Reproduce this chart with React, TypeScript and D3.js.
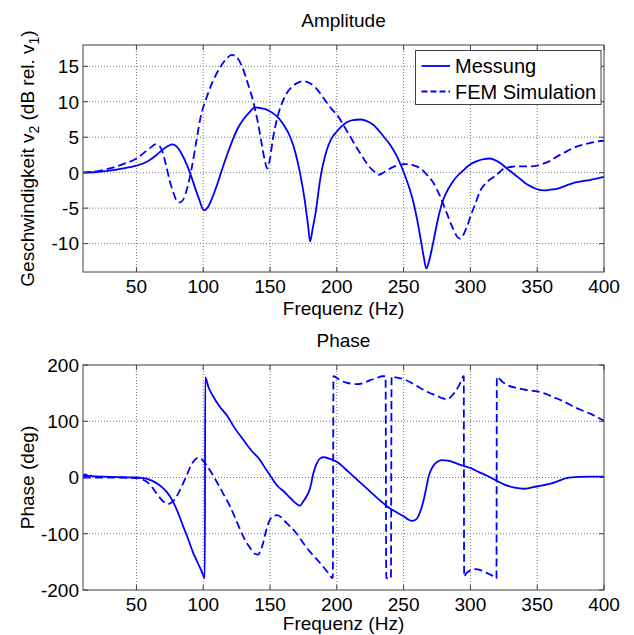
import React from 'react'
import * as d3 from 'd3'

// amplitude, Messung (dB rel. v1)
const ampMessHz = [10, 20, 30, 40, 50, 55, 60, 65, 70, 74, 77, 80, 84, 88, 91, 94, 97, 100.5, 103, 106, 110, 114, 118, 122, 126, 130, 134, 139, 143, 147.5, 152, 156, 160, 165, 169, 172.5, 176, 178.5, 180, 182, 184, 187.5, 192.5, 196, 200, 207.5, 212, 217.5, 222, 227, 235, 240, 245, 250, 254, 257.5, 260, 262.5, 265, 267, 269, 272.5, 275.5, 278.75, 282, 286, 290, 294, 298, 301, 306, 310, 314, 318, 322, 326, 330, 334, 338, 342, 347, 351, 355, 360, 366, 372, 378, 384, 390, 395, 400]
const ampMessDb = [0, 0.1, 0.3, 0.6, 1.0, 1.3, 1.8, 2.5, 3.3, 3.8, 4.0, 3.7, 2.6, 1.0, -0.5, -2.2, -3.8, -5.3, -5.0, -3.9, -1.9, 0.4, 2.6, 4.6, 6.3, 7.5, 8.4, 9.2, 9.1, 8.9, 8.4, 7.8, 6.8, 5.1, 2.8, -0.1, -3.9, -7.5, -9.7, -7.8, -5.8, -1.0, 3.2, 4.8, 5.8, 7.1, 7.4, 7.5, 7.3, 6.8, 5.1, 3.9, 2.3, 0.1, -2.0, -4.3, -6.5, -9.1, -11.8, -13.5, -12.5, -9.5, -6.7, -4.3, -2.8, -1.5, -0.5, 0.2, 0.9, 1.3, 1.7, 1.9, 2.0, 1.8, 1.4, 0.8, 0.2, -0.4, -1.0, -1.6, -2.1, -2.4, -2.5, -2.4, -2.2, -1.8, -1.4, -1.2, -1.0, -0.8, -0.6]

// amplitude, FEM Simulation
const ampFemHz = [10, 20, 30, 40, 50, 57, 61, 64, 67, 69, 72, 75, 78, 80, 82.5, 85, 88, 91, 95, 98, 102.5, 107, 112.5, 117, 121.5, 125, 129, 133, 137.5, 141, 144, 146, 148, 150, 152, 155, 158.5, 162.5, 167, 171, 175, 180, 184, 187.5, 192, 196, 200, 205, 210, 215, 220, 225, 229, 231, 234, 237, 240, 245, 250, 254, 258, 262.5, 267, 272.5, 277, 282.5, 287, 290, 292, 294, 297, 300, 304, 307.5, 312, 317.5, 322, 325, 330, 335, 340, 345, 350, 355, 360, 365, 370, 375, 380, 385, 390, 395, 400]
const ampFemDb = [0, 0.2, 0.6, 1.2, 2.0, 3.0, 3.6, 4.0, 3.8, 3.2, 1.2, -1.2, -3.0, -3.9, -4.2, -3.8, -2.2, 0.3, 4.6, 7.8, 10.6, 12.8, 14.8, 16.0, 16.6, 16.3, 15.0, 12.8, 10.0, 7.0, 3.8, 1.8, 0.6, 2.0, 4.6, 7.4, 9.6, 11.2, 12.2, 12.7, 12.9, 12.6, 12.0, 11.2, 10.0, 9.0, 8.2, 6.7, 5.1, 3.5, 2.0, 0.7, 0.0, -0.3, -0.1, 0.3, 0.6, 1.0, 1.2, 1.2, 1.0, 0.6, -0.2, -1.5, -3.2, -5.8, -7.9, -9.0, -9.3, -9.0, -7.8, -6.2, -4.2, -2.5, -1.4, -0.6, 0.1, 0.6, 0.8, 0.9, 0.9, 0.9, 1.0, 1.3, 1.7, 2.3, 2.8, 3.3, 3.7, 4.0, 4.2, 4.4, 4.5]

// phase, Messung (deg)
const phMessHz = [10, 10.5, 11, 11.5, 12, 12.5, 13, 14, 15, 17, 20, 25, 30, 40, 50, 55, 57.5, 61, 65, 69, 72.5, 76, 79, 82, 85, 88.5, 92.5, 96, 99, 101.2, 101.5, 104, 107.5, 112, 117.5, 123, 130, 136, 142.5, 146, 150, 156, 160, 165, 170, 172.5, 175, 177, 180, 182.5, 185, 187.5, 190, 195, 200, 206, 212.5, 218, 225, 231, 237.5, 244, 250, 253, 256, 259, 261, 263, 265, 267, 268.75, 271, 273.75, 276, 278.75, 283, 287.5, 293, 300, 306, 312.5, 319, 326, 333, 340, 347, 354, 360, 366, 372, 381, 390, 400]
const phMessDeg = [6, -1, 5, 1, 6, 2, 4, 2, 3.5, 2.5, 2, 1.5, 1, 0.5, 0, -1, -2, -5, -10, -17, -25, -37, -51, -68, -87, -108, -134, -152, -168, -179, 178, 160, 144, 127, 111, 90, 67, 48, 31, 18, 4, -16, -24, -36, -47, -50, -42, -35, -19, 8, 25, 34, 36, 33, 28, 16, 2, -10, -25, -38, -51, -61, -69, -74, -77, -75, -69, -57, -40, -18, 2, 16, 25, 29, 31, 30, 27, 22, 17, 10, 3, -5, -13, -18, -20, -17, -14, -11, -6, -1, 1, 1.5, 1.5]

// phase, FEM Simulation
const phFemHz = [10, 30, 50, 54, 57.5, 61, 65, 69, 72, 74, 76, 79, 82, 85, 88, 91, 93.5, 96, 99, 102.5, 106, 110, 115, 120, 125, 130, 135, 139, 141, 143, 145, 147, 150, 153, 155, 158, 160, 165, 170, 175, 181, 187.5, 193, 197, 197.5, 200, 202.5, 208, 215, 220, 225, 230, 234, 236.5, 237, 239, 240.5, 241, 244, 250, 256, 262.5, 268, 275, 279, 282.5, 286, 288.75, 292, 295, 295.3, 297, 300, 303.75, 308, 312.5, 316, 319.5, 319.8, 324, 329, 335, 341, 350, 356, 362, 370, 378, 384, 390, 395, 400]
const phFemDeg = [0, 0, -1, -3, -7, -15, -28, -40, -46, -47, -45, -38, -25, -10, 6, 22, 31, 35, 32, 22, 9, -7, -29, -51, -78, -105, -125, -136, -137, -130, -115, -95, -75, -68, -67, -70, -75, -87, -100, -117, -135, -152, -168, -179, 180, 177, 173, 168, 166, 168, 173, 177, 180, 180, -179, -178, -179, 180, 178, 175, 168, 159, 152, 145, 141, 139, 145, 153, 166, 180, -176, -170, -165, -163, -165, -170, -174, -179, 179, 170, 163, 159, 156, 153, 149, 143, 135, 125, 119, 113, 107, 101]

const freqTicks = [50, 100, 150, 200, 250, 300, 350, 400]
const ampTicks = [-10, -5, 0, 5, 10, 15]
const phaseTicks = [-200, -100, 0, 100, 200]
const legendLabels = ['Messung', 'FEM Simulation']

const FONT = "'Liberation Sans', Arial, Helvetica, sans-serif"
const FS = 19
const BLUE = '#0000ff'
const DASH = '8 4'
const LEFT = 83
const RIGHT = 604

const x = d3.scaleLinear().domain([10, 400]).range([LEFT, RIGHT])

type Series = { hz: number[]; vals: number[]; dashed: boolean }

function Panel(props: {
  id: string
  top: number
  bottom: number
  yDomain: [number, number]
  yTicks: number[]
  title: string
  yLabel: React.ReactNode
  series: Series[]
  legend?: boolean
  xLabelGap?: number
}) {
  const { id, top, bottom, yDomain, yTicks, title, yLabel, series, legend } = props
  const xLabelGap = props.xLabelGap ?? 43
  const y = d3.scaleLinear().domain(yDomain).range([bottom, top])
  const tick = 5
  const midY = (top + bottom) / 2

  return (
    <g>
      <defs>
        <clipPath id={id}>
          <rect x={LEFT} y={top} width={RIGHT - LEFT} height={bottom - top} />
        </clipPath>
      </defs>
      <rect x={LEFT} y={top} width={RIGHT - LEFT} height={bottom - top} fill="#fff" />

      {/* grid */}
      {freqTicks.filter(t => x(t) < RIGHT - 1).map(t => (
        <line key={'gx' + t} x1={x(t)} x2={x(t)} y1={top} y2={bottom}
          stroke="#7a7a7a" strokeWidth={1} strokeDasharray="1 2" />
      ))}
      {yTicks.filter(t => y(t) > top + 1 && y(t) < bottom - 1).map(t => (
        <line key={'gy' + t} x1={LEFT} x2={RIGHT} y1={y(t)} y2={y(t)}
          stroke="#7a7a7a" strokeWidth={1} strokeDasharray="1 2" />
      ))}

      {/* curves */}
      <g clipPath={`url(#${id})`}>
        {series.map((s, i) => {
          const pts: [number, number][] = s.hz.map((h, k) => [h, s.vals[k]])
          const path = d3.line<[number, number]>()
            .x(d => x(d[0]))
            .y(d => y(d[1]))
            .curve(d3.curveMonotoneX)(pts)
          return (
            <path key={i} d={path || ''} fill="none" stroke={BLUE} strokeWidth={1.8}
              strokeDasharray={s.dashed ? DASH : undefined} strokeLinejoin="round" />
          )
        })}
      </g>

      {/* ticks */}
      {freqTicks.map(t => (
        <g key={'tx' + t}>
          <line x1={x(t)} x2={x(t)} y1={bottom} y2={bottom - tick} stroke="#404040" />
          <line x1={x(t)} x2={x(t)} y1={top} y2={top + tick} stroke="#404040" />
          <text x={x(t)} y={bottom + 21} textAnchor="middle" fontSize={FS} fontFamily={FONT}>{t}</text>
        </g>
      ))}
      {yTicks.map(t => (
        <g key={'ty' + t}>
          <line x1={LEFT} x2={LEFT + tick} y1={y(t)} y2={y(t)} stroke="#404040" />
          <line x1={RIGHT} x2={RIGHT - tick} y1={y(t)} y2={y(t)} stroke="#404040" />
          <text x={LEFT - 4} y={y(t)} dy="0.36em" textAnchor="end" fontSize={FS} fontFamily={FONT}>{t}</text>
        </g>
      ))}
      <rect x={LEFT} y={top} width={RIGHT - LEFT} height={bottom - top} fill="none" stroke="#404040" strokeWidth={1} />

      {/* labels */}
      <text x={(LEFT + RIGHT) / 2} y={top - 18} textAnchor="middle" fontSize={FS} fontFamily={FONT}>{title}</text>
      <text x={(LEFT + RIGHT) / 2} y={bottom + xLabelGap} textAnchor="middle" fontSize={FS} fontFamily={FONT}>Frequenz (Hz)</text>
      <text transform={`translate(34,${midY}) rotate(-90)`} textAnchor="middle" fontSize={FS} fontFamily={FONT}>{yLabel}</text>

      {legend && (
        <g>
          <rect x={415.5} y={50.5} width={185.5} height={54} fill="#fff" stroke="#404040" />
          {legendLabels.map((lab, i) => (
            <g key={lab}>
              <line x1={421.5} x2={450} y1={66 + i * 25.5} y2={66 + i * 25.5} stroke={BLUE} strokeWidth={1.8}
                strokeDasharray={i === 1 ? '6 3' : undefined} />
              <text x={455} y={66 + i * 25.5} dy="0.36em" fontSize={20} fontFamily={FONT}>{lab}</text>
            </g>
          ))}
        </g>
      )}
    </g>
  )
}

export default function App() {
  const ampSeries: Series[] = [
    { hz: ampMessHz, vals: ampMessDb, dashed: false },
    { hz: ampFemHz, vals: ampFemDb, dashed: true },
  ]
  const phaseSeries: Series[] = [
    { hz: phMessHz, vals: phMessDeg, dashed: false },
    { hz: phFemHz, vals: phFemDeg, dashed: true },
  ]
  return (
    <svg width={634} height={635} style={{ position: 'absolute', left: 0, top: 0, background: '#fff' }}>
      <rect width={634} height={635} fill="#fff" />
      <Panel id="clipAmp" top={45} bottom={272} yDomain={[-14, 18]} yTicks={ampTicks}
        title="Amplitude" series={ampSeries} legend
        yLabel={<>Geschwindigkeit v<tspan dy={5} fontSize={14}>2</tspan><tspan dy={-5}> (dB rel. v</tspan><tspan dy={5} fontSize={14}>1</tspan><tspan dy={-5}>)</tspan></>} />
      <Panel id="clipPh" top={365} bottom={590} yDomain={[-200, 200]} yTicks={phaseTicks}
        title="Phase" series={phaseSeries} yLabel="Phase (deg)" xLabelGap={40} />
    </svg>
  )
}
